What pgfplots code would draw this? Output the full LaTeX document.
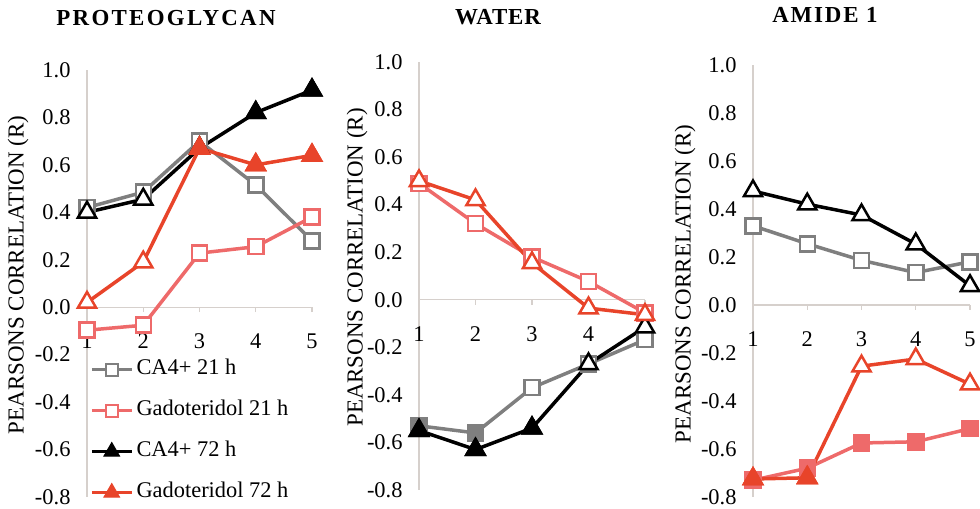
\documentclass[border=0pt]{standalone}
\usepackage{fontspec}
\setmainfont{Liberation Serif}
\usepackage{pgfplots}
\pgfplotsset{compat=1.18}
\definecolor{cgrey}{HTML}{7F7F7F}
\definecolor{clred}{HTML}{EE6A6A}
\definecolor{cred}{HTML}{E8442A}
\definecolor{caxis}{HTML}{D6D0CC}
\pgfplotsset{
  panel/.style={
    scale only axis, xmin=1, xmax=5, ymin=-0.8, ymax=1.0,
    axis x line=middle, axis y line=left,
    axis line style={-, caxis, line width=1.2bp},
    xtick={1,2,3,4,5},
    ytick={-0.8,-0.6,-0.4,-0.2,0,0.2,0.4,0.6,0.8,1.0},
    yticklabel style={/pgf/number format/fixed, /pgf/number format/fixed zerofill, /pgf/number format/precision=1},
    /pgf/number format/assume math mode=true,
    tick label style={font=\fontsize{22.5}{26}\selectfont},
    xticklabel style={yshift=-18bp},
    yticklabel style={xshift=-8bp},
    y tick style={draw=none},
    x tick style={caxis, line width=1.2bp},
    tick align=outside, major tick length=5bp,
    hide obscured x ticks=false, hide obscured y ticks=false,
    clip=false,
    anchor=south west,
  },
  sqo/.style={#1, line width=3.5bp, mark=square*, mark size=7.5bp, mark options={solid, fill=white, line width=2.5bp}},
  sqf/.style={#1, only marks, forget plot, mark=square*, mark size=7.5bp, mark options={solid, fill=#1, line width=2.5bp}},
  tro/.style={#1, line width=3.5bp, mark=triangle*, mark size=10.5bp, mark options={solid, fill=white, line width=2.5bp}},
  trf/.style={#1, only marks, forget plot, mark=triangle*, mark size=10.5bp, mark options={solid, fill=#1, line width=2.5bp}},
  legend image code/.code={\draw[mark repeat=2,mark phase=2,#1] plot coordinates {(0bp,0bp) (20bp,0bp) (40bp,0bp)};},
}
\newcommand{\ylab}[1]{\node[rotate=90, font=\fontsize{23}{26}\selectfont, anchor=center] at (#1) {PEARSONS CORRELATION (R)};}
\begin{document}
\begin{tikzpicture}[x=1bp,y=1bp]
\useasboundingbox (0,0) rectangle (980,509);
\node[font=\bfseries\fontsize{23}{26}\selectfont\addfontfeature{LetterSpace=10}, anchor=base] at (166,483) {PROTEOGLYCAN};
\node[font=\bfseries\fontsize{23}{26}\selectfont\addfontfeature{LetterSpace=4}, anchor=base] at (498,484) {WATER};
\node[font=\bfseries\fontsize{23}{26}\selectfont\addfontfeature{LetterSpace=8}, anchor=base] at (825,486) {AMIDE 1};

% ---------- PROTEOGLYCAN ----------
\begin{axis}[panel, at={(87bp,12bp)}, width=225bp, height=427bp,
  legend style={at={(axis cs:1.05,-0.22)}, anchor=north west, draw=none, fill=none,
    inner sep=0pt, font=\fontsize{22.5}{26}\selectfont, row sep=21bp,
    nodes={text height=15bp, text depth=5bp, inner ysep=0pt, inner xsep=3bp}},
  legend cell align=left]
\addplot[sqo=cgrey, forget plot] coordinates {(1,0.42)(2,0.485)(3,0.70)(4,0.515)(5,0.28)};
\addplot[sqo=clred, forget plot] coordinates {(1,-0.097)(2,-0.076)(3,0.228)(4,0.255)(5,0.38)};
\addplot[tro=black, forget plot] coordinates {(1,0.40)(2,0.455)(3,0.67)(4,0.82)(5,0.915)};
\addplot[trf=black] coordinates {(3,0.67)(4,0.82)(5,0.915)};
\addplot[tro=cred, forget plot] coordinates {(1,0.02)(2,0.19)(3,0.67)(4,0.60)(5,0.64)};
\addplot[trf=cred] coordinates {(3,0.67)(4,0.60)(5,0.64)};
\addlegendimage{cgrey, line width=3.5bp, mark=square*, mark size=6bp, mark options={solid, fill=white, line width=2.2bp}}
\addlegendimage{clred, line width=3.5bp, mark=square*, mark size=6bp, mark options={solid, fill=white, line width=2.2bp}}
\addlegendimage{black, line width=3.5bp, mark=triangle*, mark size=9bp, mark options={solid, fill=black, line width=1bp}}
\addlegendimage{cred, line width=3.5bp, mark=triangle*, mark size=9bp, mark options={solid, fill=cred, line width=1bp}}
\legend{CA4+ 21 h, Gadoteridol 21 h, CA4+ 72 h, Gadoteridol 72 h}
\ylab{[xshift=-69bp]rel axis cs:0,0.52}
\end{axis}

% ---------- WATER ----------
\begin{axis}[panel, at={(419bp,19bp)}, width=226bp, height=428bp]
\addplot[sqo=cgrey] coordinates {(1,-0.53)(2,-0.56)(3,-0.37)(4,-0.27)(5,-0.168)};
\addplot[sqf=cgrey] coordinates {(1,-0.53)(2,-0.56)};
\addplot[sqo=clred] coordinates {(1,0.49)(2,0.32)(3,0.18)(4,0.077)(5,-0.055)};
\addplot[tro=black] coordinates {(1,-0.55)(2,-0.63)(3,-0.54)(4,-0.27)(5,-0.115)};
\addplot[trf=black] coordinates {(1,-0.55)(2,-0.63)(3,-0.54)};
\addplot[tro=cred] coordinates {(1,0.50)(2,0.42)(3,0.155)(4,-0.035)(5,-0.063)};
\ylab{[xshift=-62bp]rel axis cs:0,0.52}
\end{axis}

% ---------- AMIDE 1 ----------
\begin{axis}[panel, at={(753bp,12bp)}, width=217bp, height=432bp]
\addplot[sqo=cgrey] coordinates {(1,0.33)(2,0.255)(3,0.186)(4,0.135)(5,0.18)};
\addplot[sqo=clred] coordinates {(1,-0.73)(2,-0.68)(3,-0.575)(4,-0.57)(5,-0.515)};
\addplot[sqf=clred] coordinates {(1,-0.73)(2,-0.68)(3,-0.575)(4,-0.57)(5,-0.515)};
\addplot[tro=black] coordinates {(1,0.475)(2,0.42)(3,0.375)(4,0.254)(5,0.08)};
\addplot[tro=cred] coordinates {(1,-0.725)(2,-0.72)(3,-0.255)(4,-0.225)(5,-0.33)};
\addplot[trf=cred] coordinates {(1,-0.725)(2,-0.72)};
\ylab{[xshift=-68bp]rel axis cs:0,0.493}
\end{axis}
\end{tikzpicture}
\end{document}
